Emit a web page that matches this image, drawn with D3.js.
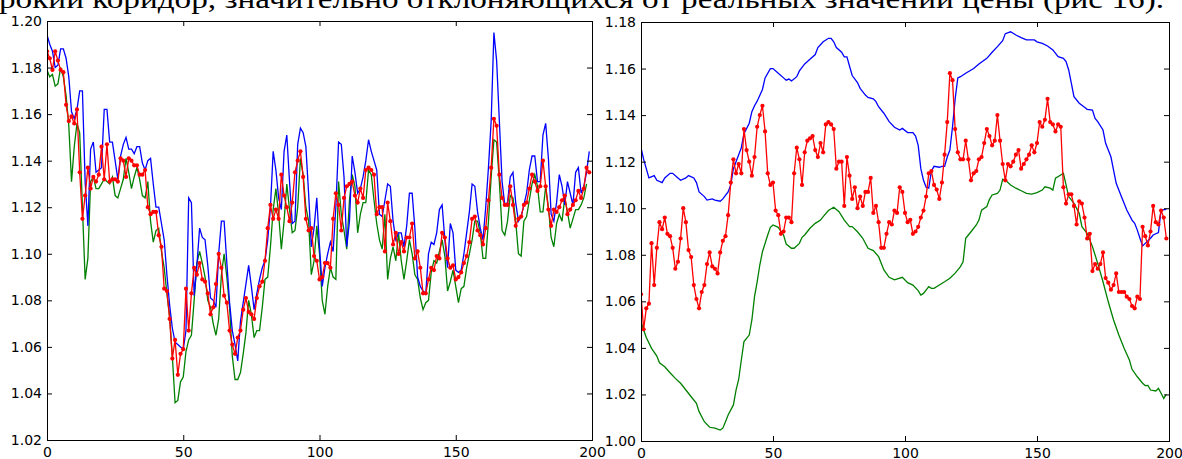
<!DOCTYPE html>
<html>
<head>
<meta charset="utf-8">
<script src="https://cdn.jsdelivr.net/npm/d3@7"></script>
<style>
    body { margin: 0; background: #fff; }
    svg { display: block; }
</style>
</head>
<body>
<script>
window.onload = main;

const svgWidth = 1182;
const svgHeight = 459;

// last line of the document text, cut off by the top edge of the picture
const captionText = "рокий коридор, значительно отклоняющихся от реальных значений цены (рис 16).";

const xTicks = [0, 50, 100, 150, 200];
const leftYTicks = [1.02, 1.04, 1.06, 1.08, 1.10, 1.12, 1.14, 1.16, 1.18, 1.20];
const rightYTicks = [1.00, 1.02, 1.04, 1.06, 1.08, 1.10, 1.12, 1.14, 1.16, 1.18];

// the red price series is the same in both panels, the right one starts 47 steps later
const leftStart = 0;
const rightStart = 47;
const price = [
    1.187, 1.184, 1.179, 1.187, 1.183, 1.179, 1.178, 1.164, 1.157, 1.159,
    1.156, 1.162, 1.135, 1.115, 1.125, 1.137, 1.128, 1.133, 1.131, 1.134,
    1.146, 1.132, 1.147, 1.131, 1.132, 1.132, 1.131, 1.141, 1.140, 1.133,
    1.141, 1.140, 1.138, 1.138, 1.134, 1.134, 1.136, 1.120, 1.117, 1.118,
    1.118, 1.108, 1.103, 1.085, 1.084, 1.072, 1.055,
    // from here on: step 0 of the right panel
    1.063, 1.048, 1.057, 1.059, 1.085, 1.067, 1.083, 1.094, 1.091, 1.096,
    1.089, 1.088, 1.083, 1.074, 1.077, 1.087, 1.100, 1.094, 1.082, 1.079,
    1.067, 1.061, 1.057, 1.064, 1.067, 1.076, 1.081, 1.075, 1.074, 1.072,
    1.081, 1.086, 1.088, 1.097, 1.111, 1.121, 1.115, 1.119, 1.115, 1.134,
    1.125, 1.120, 1.114, 1.122, 1.135, 1.140, 1.144, 1.133, 1.115, 1.110,
    1.111, 1.099, 1.097, 1.089, 1.090, 1.096, 1.096, 1.094, 1.115, 1.126,
    1.121, 1.110, 1.124, 1.129, 1.130, 1.131, 1.125, 1.122, 1.128, 1.124,
    1.136, 1.137, 1.136, 1.134, 1.117, 1.120, 1.120, 1.101, 1.122, 1.114,
    1.104, 1.109, 1.100, 1.105, 1.101, 1.107, 1.107, 1.113, 1.098, 1.101,
    1.094, 1.083, 1.083, 1.089, 1.094, 1.093, 1.099, 1.098, 1.109, 1.107,
    1.098, 1.094, 1.095, 1.089, 1.090, 1.092, 1.096, 1.099, 1.105, 1.115,
    1.116, 1.110, 1.108, 1.104, 1.111, 1.123, 1.137, 1.158, 1.155, 1.134,
    1.124, 1.121, 1.121, 1.129, 1.121, 1.112, 1.115, 1.116, 1.121, 1.122,
    1.128, 1.134, 1.131, 1.127, 1.129, 1.140, 1.129, 1.119, 1.112, 1.119,
    1.118, 1.120, 1.123, 1.125, 1.117, 1.119, 1.121, 1.123, 1.127, 1.124,
    1.128, 1.137, 1.135, 1.138, 1.147, 1.137, 1.136, 1.133, 1.136, 1.135,
    1.109, 1.102, 1.106, 1.106, 1.101, 1.093, 1.103, 1.102, 1.096, 1.087,
    1.089, 1.073, 1.076, 1.074, 1.076, 1.081, 1.070, 1.068, 1.065, 1.067,
    1.072, 1.064, 1.064, 1.064, 1.062, 1.061, 1.058, 1.057, 1.062, 1.061,
    1.092, 1.088, 1.084, 1.090, 1.101, 1.094, 1.093, 1.099, 1.096, 1.087
];

// left panel, upper (blue) and lower (green) lines, one value per step
const leftUpper = [
    1.194, 1.190, 1.187, 1.180, 1.181, 1.188, 1.188, 1.184, 1.176, 1.161,
    1.158, 1.162, 1.170, 1.170, 1.131, 1.112, 1.145, 1.148, 1.135, 1.136,
    1.137, 1.162, 1.162, 1.148, 1.148, 1.140, 1.132, 1.142, 1.147, 1.150,
    1.145, 1.145, 1.143, 1.146, 1.146, 1.139, 1.136, 1.140, 1.141, 1.130,
    1.120, 1.120, 1.113, 1.106, 1.091, 1.078, 1.068, 1.062, 1.061, 1.060,
    1.059, 1.067, 1.124, 1.122, 1.082, 1.095, 1.111, 1.107, 1.106, 1.095,
    1.081, 1.080, 1.077, 1.100, 1.114, 1.114, 1.096, 1.079, 1.067, 1.061,
    1.054, 1.071, 1.079, 1.087, 1.095, 1.086, 1.076, 1.083, 1.089, 1.094,
    1.097, 1.106, 1.120, 1.144, 1.136, 1.124, 1.119, 1.144, 1.151, 1.131,
    1.113, 1.114, 1.147, 1.154, 1.152, 1.146, 1.126, 1.103, 1.111, 1.124,
    1.103, 1.086, 1.094, 1.100, 1.105, 1.101, 1.120, 1.148, 1.147, 1.133,
    1.103, 1.114, 1.142, 1.135, 1.126, 1.128, 1.133, 1.140, 1.149, 1.144,
    1.140, 1.136, 1.117, 1.116, 1.123, 1.130, 1.129, 1.114, 1.106, 1.109,
    1.109, 1.103, 1.112, 1.126, 1.126, 1.111, 1.090, 1.086, 1.084, 1.083,
    1.100, 1.105, 1.104, 1.109, 1.119, 1.121, 1.106, 1.094, 1.113, 1.109,
    1.093, 1.092, 1.093, 1.100, 1.109, 1.118, 1.130, 1.129, 1.118, 1.111,
    1.106, 1.120, 1.137, 1.157, 1.195, 1.183, 1.157, 1.131, 1.121, 1.122,
    1.133, 1.135, 1.122, 1.114, 1.116, 1.121, 1.126, 1.136, 1.142, 1.142,
    1.131, 1.131, 1.151, 1.156, 1.141, 1.117, 1.114, 1.122, 1.134, 1.129,
    1.121, 1.131, 1.126, 1.121, 1.135, 1.137, 1.126, 1.129, 1.135, 1.144
];
const leftLower = [
    1.179, 1.176, 1.177, 1.172, 1.173, 1.180, 1.176, 1.168, 1.155, 1.131,
    1.146, 1.156, 1.152, 1.120, 1.089, 1.098, 1.131, 1.133, 1.128, 1.128,
    1.130, 1.132, 1.131, 1.130, 1.133, 1.125, 1.124, 1.128, 1.132, 1.141,
    1.135, 1.128, 1.133, 1.137, 1.132, 1.125, 1.124, 1.131, 1.114, 1.105,
    1.110, 1.111, 1.101, 1.094, 1.083, 1.073, 1.056, 1.036, 1.037, 1.045,
    1.047, 1.058, 1.063, 1.065, 1.080, 1.096, 1.101, 1.096, 1.090, 1.080,
    1.077, 1.070, 1.065, 1.072, 1.091, 1.100, 1.090, 1.077, 1.056, 1.046,
    1.046, 1.049, 1.057, 1.066, 1.080, 1.074, 1.064, 1.067, 1.067, 1.077,
    1.089, 1.090, 1.103, 1.119, 1.128, 1.117, 1.102, 1.114, 1.130, 1.119,
    1.109, 1.110, 1.120, 1.141, 1.134, 1.120, 1.114, 1.091, 1.097, 1.112,
    1.100, 1.080, 1.074, 1.086, 1.094, 1.090, 1.089, 1.131, 1.117, 1.110,
    1.102, 1.123, 1.134, 1.129, 1.109, 1.117, 1.122, 1.122, 1.136, 1.134,
    1.123, 1.113, 1.106, 1.102, 1.117, 1.089, 1.098, 1.103, 1.097, 1.109,
    1.097, 1.089, 1.097, 1.106, 1.100, 1.091, 1.089, 1.081, 1.076, 1.079,
    1.080, 1.092, 1.097, 1.096, 1.101, 1.106, 1.099, 1.084, 1.088, 1.093,
    1.086, 1.079, 1.085, 1.086, 1.094, 1.100, 1.106, 1.114, 1.114, 1.109,
    1.098, 1.098, 1.114, 1.133, 1.149, 1.148, 1.131, 1.110, 1.108, 1.114,
    1.125, 1.124, 1.114, 1.100, 1.099, 1.114, 1.116, 1.123, 1.130, 1.134,
    1.129, 1.118, 1.118, 1.129, 1.120, 1.107, 1.103, 1.113, 1.117, 1.114,
    1.124, 1.118, 1.111, 1.115, 1.119, 1.119, 1.121, 1.124, 1.130
];

// right panel, smooth upper (blue) and lower (green) lines: [step, value]
const rightUpper = [
    [0, 1.126], [1, 1.121], [3, 1.113], [5, 1.114], [6, 1.112], [8, 1.111], [9, 1.113],
    [11, 1.115], [12, 1.115], [14, 1.113], [15, 1.112], [17, 1.113], [18, 1.114], [20, 1.113],
    [21, 1.111], [22, 1.107], [24, 1.105], [25, 1.1035], [27, 1.104], [28, 1.1035], [30, 1.103],
    [31, 1.104], [33, 1.107], [34, 1.110], [35, 1.117], [37, 1.123], [38, 1.126], [39, 1.132],
    [41, 1.1365], [42, 1.1415], [43, 1.144], [44, 1.146], [46, 1.151], [47, 1.156], [49, 1.160],
    [50, 1.160], [52, 1.158], [54, 1.156], [55, 1.155], [56, 1.1555], [57, 1.1547], [59, 1.1565],
    [60, 1.159], [62, 1.162], [64, 1.164], [66, 1.166], [67, 1.169], [69, 1.1715], [71, 1.173],
    [72, 1.173], [73, 1.1715], [74, 1.169], [76, 1.167], [77, 1.165], [78, 1.165], [79, 1.161],
    [80, 1.157], [82, 1.154], [83, 1.1515], [85, 1.1486], [86, 1.1476], [88, 1.147], [89, 1.1458],
    [90, 1.1436], [92, 1.1408], [94, 1.1372], [96, 1.1348], [98, 1.1336], [99, 1.1343], [101, 1.1325],
    [103, 1.1325], [104, 1.131], [105, 1.127], [106, 1.117], [107, 1.112], [108, 1.109], [109, 1.1086],
    [110, 1.116], [111, 1.118], [113, 1.1176], [114, 1.118], [115, 1.118], [116, 1.122], [117, 1.125],
    [118, 1.135], [119, 1.147], [120, 1.156], [121, 1.1565], [123, 1.158], [126, 1.160], [128, 1.162],
    [131, 1.1644], [133, 1.167], [135, 1.1694], [137, 1.172], [138, 1.175], [140, 1.1758], [142, 1.1744],
    [144, 1.1733], [146, 1.1723], [149, 1.1723], [150, 1.1715], [152, 1.1708], [154, 1.1697], [156, 1.168],
    [158, 1.1651], [160, 1.1644], [161, 1.163], [162, 1.1594], [163, 1.1537], [164, 1.1479], [166, 1.1451],
    [168, 1.1434], [169, 1.1425], [171, 1.1422], [172, 1.1386], [173, 1.1372], [175, 1.1336], [176, 1.1279],
    [178, 1.1221], [179, 1.1164], [180, 1.1107], [182, 1.1049], [184, 1.0992], [186, 1.0949], [187, 1.0935],
    [188, 1.0906], [189, 1.0871], [190, 1.0838], [191, 1.0849], [193, 1.0871], [194, 1.0885], [196, 1.0895],
    [197, 1.0992], [199, 1.0995]
];
const rightLower = [
    [0, 1.0513], [1, 1.0477], [2, 1.0445], [4, 1.0398], [6, 1.0365], [7, 1.0336], [9, 1.0319],
    [11, 1.0293], [13, 1.0269], [15, 1.0248], [17, 1.0219], [19, 1.019], [21, 1.0162], [22, 1.0126],
    [24, 1.0083], [26, 1.0059], [28, 1.0055], [30, 1.0047], [31, 1.0055], [32, 1.0083], [33, 1.0112],
    [35, 1.0155], [36, 1.0219], [37, 1.0265], [38, 1.0348], [39, 1.0427], [41, 1.0455], [42, 1.052],
    [43, 1.062], [44, 1.0684], [45, 1.0756], [46, 1.0813], [48, 1.0885], [49, 1.0918], [50, 1.0928],
    [52, 1.0918], [54, 1.0885], [55, 1.0846], [57, 1.0828], [58, 1.0828], [60, 1.0849], [61, 1.0875],
    [62, 1.0885], [64, 1.0914], [66, 1.0935], [68, 1.0949], [69, 1.0964], [71, 1.099], [73, 1.1004],
    [75, 1.0985], [77, 1.0949], [79, 1.0921], [80, 1.0921], [82, 1.0899], [84, 1.0871], [86, 1.0828],
    [88, 1.0818], [90, 1.0792], [92, 1.0735], [94, 1.0703], [96, 1.0692], [99, 1.0703], [101, 1.068],
    [103, 1.067], [105, 1.0646], [106, 1.0627], [107, 1.0634], [109, 1.0663], [110, 1.0656], [111, 1.0656],
    [113, 1.067], [115, 1.0684], [117, 1.0699], [119, 1.0721], [121, 1.0749], [122, 1.077], [123, 1.0871],
    [124, 1.0885], [125, 1.0899], [127, 1.0928], [128, 1.0949], [129, 1.0992], [131, 1.1007], [132, 1.1038],
    [133, 1.1057], [135, 1.1064], [136, 1.1078], [137, 1.1124], [138, 1.1121], [140, 1.11], [142, 1.1086],
    [144, 1.1075], [146, 1.1064], [148, 1.1061], [150, 1.1067], [152, 1.1078], [153, 1.1092], [155, 1.1086],
    [156, 1.1078], [157, 1.1129], [159, 1.1143], [160, 1.115], [161, 1.11], [162, 1.105], [164, 1.1021],
    [166, 1.0978], [167, 1.0921], [169, 1.0892], [171, 1.0835], [173, 1.0763], [175, 1.0684], [177, 1.0598],
    [179, 1.052], [181, 1.0455], [183, 1.0398], [185, 1.0348], [186, 1.0308], [188, 1.0276], [190, 1.0248],
    [191, 1.0238], [192, 1.0239], [193, 1.0219], [195, 1.0215], [196, 1.0226], [197, 1.0205], [198, 1.0183],
    [199, 1.02]
];

// plot frames in page pixels
const leftBox = {x0: 47, x1: 592, y0: 21, y1: 440};
const rightBox = {x0: 641, x1: 1169, y0: 22, y1: 441};

const tickFont = "'DejaVu Sans', sans-serif";

function main() {
    const svg = d3.select("body")
        .append("svg")
        .attr("width", svgWidth)
        .attr("height", svgHeight);

    svg.append("text")
        .attr("x", -1)
        .attr("y", 8)
        .attr("font-family", "'Liberation Serif', serif")
        .attr("font-size", "28px")
        .attr("fill", "#000")
        .attr("textLength", 1165)
        .attr("lengthAdjust", "spacingAndGlyphs")
        .text(captionText);

    const leftPrice = price.slice(leftStart, leftStart + 200).map((v, i) => [i, v]);
    const rightPrice = price.slice(rightStart, rightStart + 200).map((v, i) => [i, v]);

    drawPanel(svg, "left", leftBox, [1.02, 1.20], leftYTicks, leftPrice,
        leftUpper.map((v, i) => [i, v]), leftLower.map((v, i) => [i, v]));
    drawPanel(svg, "right", rightBox, [1.00, 1.18], rightYTicks, rightPrice, rightUpper, rightLower);
}

function drawPanel(svg, name, box, yDomain, yTicks, pricePts, upperPts, lowerPts) {
    const scaleX = d3.scaleLinear().domain([0, 200]).range([box.x0, box.x1]);
    const scaleY = d3.scaleLinear().domain(yDomain).range([box.y1, box.y0]);

    const g = svg.append("g");

    // clip the lines to the frame
    g.append("clipPath")
        .attr("id", "clip-" + name)
        .append("rect")
        .attr("x", box.x0)
        .attr("y", box.y0)
        .attr("width", box.x1 - box.x0)
        .attr("height", box.y1 - box.y0);

    const plot = g.append("g").attr("clip-path", `url(#clip-${name})`);
    const line = d3.line()
        .x(d => scaleX(d[0]))
        .y(d => scaleY(d[1]));

    plot.append("path")
        .datum(lowerPts)
        .attr("fill", "none")
        .attr("stroke", "#008000")
        .attr("stroke-width", 1.3)
        .attr("d", line);

    plot.append("path")
        .datum(upperPts)
        .attr("fill", "none")
        .attr("stroke", "#0000ff")
        .attr("stroke-width", 1.3)
        .attr("d", line);

    plot.append("path")
        .datum(pricePts)
        .attr("fill", "none")
        .attr("stroke", "#ff0000")
        .attr("stroke-width", 1.3)
        .attr("d", line);

    plot.selectAll(null)
        .data(pricePts)
        .join("circle")
        .attr("cx", d => scaleX(d[0]))
        .attr("cy", d => scaleY(d[1]))
        .attr("r", 2.1)
        .attr("fill", "#ff0000");

    // axes, ticks point inwards on all four sides
    const fmt = d3.format(".2f");
    const axes = [
        [d3.axisBottom(scaleX).tickValues(xTicks).tickSize(-5).tickPadding(7), `translate(0,${box.y1})`],
        [d3.axisLeft(scaleY).tickValues(yTicks).tickFormat(fmt).tickSize(-5).tickPadding(5), `translate(${box.x0},0)`],
        [d3.axisTop(scaleX).tickValues(xTicks).tickFormat(() => "").tickSize(-5), `translate(0,${box.y0})`],
        [d3.axisRight(scaleY).tickValues(yTicks).tickFormat(() => "").tickSize(-5), `translate(${box.x1},0)`]
    ];
    axes.forEach(([axis, tr]) => {
        const a = g.append("g")
            .attr("transform", tr)
            .call(axis.tickSizeOuter(0));
        a.select(".domain").remove();
        a.selectAll("line").attr("stroke", "#000");
        a.selectAll("text")
            .attr("font-family", tickFont)
            .attr("font-size", "14px")
            .attr("fill", "#000");
    });

    // frame
    g.append("rect")
        .attr("x", box.x0 + 0.5)
        .attr("y", box.y0 + 0.5)
        .attr("width", box.x1 - box.x0)
        .attr("height", box.y1 - box.y0)
        .attr("fill", "none")
        .attr("stroke", "#000")
        .attr("stroke-width", 1);
}
</script>
</body>
</html>
